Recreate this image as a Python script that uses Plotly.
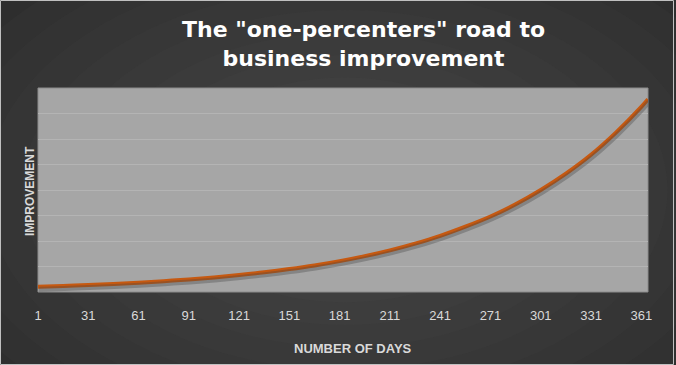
import plotly.graph_objects as go

# Data
days = [1, 16, 31, 46, 61, 76, 91, 106, 121, 136, 151, 166, 181, 196, 211, 226,
        241, 256, 271, 286, 301, 316, 331, 346, 361, 365]
improvement = [1.01, 1.17, 1.36, 1.58, 1.83, 2.12, 2.47, 2.86, 3.33, 3.86, 4.49,
               5.21, 6.05, 7.03, 8.16, 9.48, 11.0, 12.8, 14.8, 17.2, 20.0,
               23.2, 26.9, 31.3, 36.3, 37.8]
tick_days = [1, 31, 61, 91, 121, 151, 181, 211, 241, 271, 301, 331, 361]
tick_labels = [str(d) for d in tick_days]

W, H = 676, 365
L, R, T, B = 38, 648, 88, 292
pw, ph = R - L, B - T

def px(x):
    return (x - L) / pw

def py(y):
    return (B - y) / ph

xr = [1, 365]
yr = [0, 40]
# shadow offset in pixels
sdx, sdy = 1.0, 2.5
xr2 = [xr[0] - sdx * (xr[1] - xr[0]) / pw, xr[1] - sdx * (xr[1] - xr[0]) / pw]
yr2 = [yr[0] + sdy * (yr[1] - yr[0]) / ph, yr[1] + sdy * (yr[1] - yr[0]) / ph]

fig = go.Figure()
fig.add_trace(go.Scatter(x=days, y=improvement, mode="lines", xaxis="x2", yaxis="y2",
                         line=dict(color="rgba(70,70,70,0.35)", width=5, shape="spline"),
                         hoverinfo="skip", showlegend=False))
fig.add_trace(go.Scatter(x=days, y=improvement, mode="lines",
                         line=dict(color="#c65911", width=4, shape="spline"),
                         showlegend=False))

shapes = []
# soft radial gradient background
cx, cy = 345, 190
n = 12
for i in range(n):
    f = 1 - i / n
    rx, ry = 430 * f, 270 * f
    shapes.append(dict(type="circle", xref="paper", yref="paper",
                       x0=px(cx - rx), x1=px(cx + rx), y0=py(cy + ry), y1=py(cy - ry),
                       fillcolor="rgba(110,110,110,0.045)", line=dict(width=0),
                       layer="below"))
# plot area
shapes.append(dict(type="rect", xref="paper", yref="paper", x0=0, x1=1, y0=0, y1=1,
                   fillcolor="#a6a6a6", line=dict(color="#8c8c8c", width=1), layer="below"))
# image border
shapes.append(dict(type="rect", xref="paper", yref="paper",
                   x0=px(0.5), x1=px(W - 2.5), y0=py(H - 0.5), y1=py(0.5),
                   fillcolor="rgba(0,0,0,0)", line=dict(color="#c0c0c0", width=1),
                   layer="above"))

annotations = [
    dict(text='The "one-percenters" road to<br>business improvement', xref="paper",
         yref="paper", x=px(363), y=py(44), xanchor="center", yanchor="middle",
         showarrow=False, font=dict(family="DejaVu Sans", size=22,
                                    color="#ffffff", weight="bold")),
    dict(text="NUMBER OF DAYS", xref="paper", yref="paper", x=px(353), y=py(348),
         xanchor="center", yanchor="middle", showarrow=False,
         font=dict(family="Liberation Sans, Arial", size=13, color="#d9d9d9",
                   weight="bold")),
    dict(text="IMPROVEMENT", xref="paper", yref="paper", x=px(30), y=py(191),
         xanchor="center", yanchor="middle", textangle=-90, showarrow=False,
         font=dict(family="Liberation Sans, Arial", size=12, color="#d9d9d9",
                   weight="bold")),
]

fig.update_layout(
    width=W, height=H,
    margin=dict(l=L, r=W - R, t=T, b=H - B, pad=0),
    paper_bgcolor="#2e2e2e",
    plot_bgcolor="rgba(0,0,0,0)",
    shapes=shapes,
    annotations=annotations,
    xaxis=dict(range=xr, tickmode="array", tickvals=tick_days, ticktext=tick_labels,
               showgrid=False, zeroline=False, showline=False, ticks="",
               ticklabelstandoff=14,
               tickfont=dict(family="Liberation Sans, Arial", size=13, color="#d9d9d9")),
    yaxis=dict(range=yr, dtick=5, showgrid=True, gridcolor="#b4b4b4", gridwidth=1,
               zeroline=False, showticklabels=False, ticks="", showline=False),
    xaxis2=dict(range=xr2, overlaying="x", visible=False),
    yaxis2=dict(range=yr2, overlaying="y", visible=False),
)

fig.write_html("out.html", config={"displayModeBar": False},
               post_script="document.body.style.margin='0';document.body.style.background='#2e2e2e';")
